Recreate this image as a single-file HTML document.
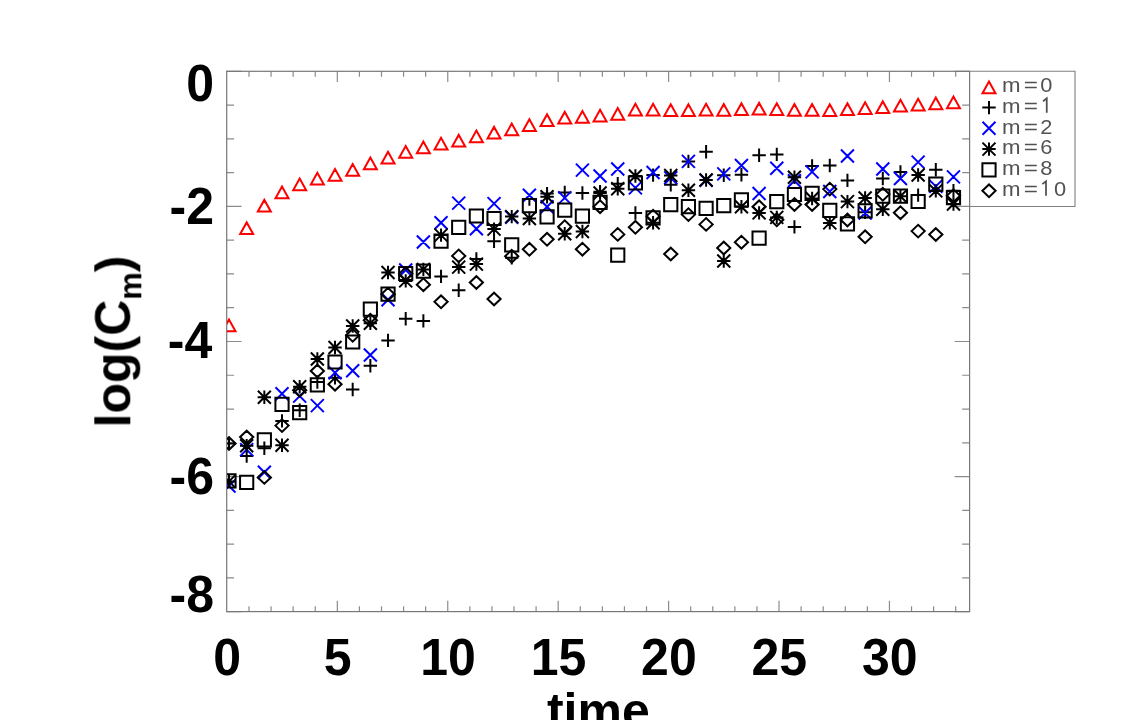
<!DOCTYPE html>
<html><head><meta charset="utf-8"><title>log(Cm) vs time</title>
<style>
html,body{margin:0;padding:0;background:#fff}
body{width:1142px;height:720px;overflow:hidden;font-family:"Liberation Sans",sans-serif}
svg{display:block}
.ax{font-family:"Liberation Sans",sans-serif;font-weight:bold;font-size:50px;fill:#000}
.lg{font-family:"Liberation Sans",sans-serif;font-size:21px;fill:#525252}
.mk{fill:none;stroke-width:2;stroke-linejoin:miter;stroke-linecap:butt}
</style></head><body>
<svg width="1142" height="720" viewBox="0 0 1142 720">
<rect x="0" y="0" width="1142" height="720" fill="#fff"/>
<defs><clipPath id="pc"><rect x="227" y="60" width="760" height="552"/></clipPath></defs>
<path d="M248.99 611.6V606.2M248.99 71.3V76.7M271.07 611.6V606.2M271.07 71.3V76.7M293.15 611.6V606.2M293.15 71.3V76.7M315.24 611.6V606.2M315.24 71.3V76.7M337.33 611.6V600.8M337.33 71.3V82.1M359.41 611.6V606.2M359.41 71.3V76.7M381.5 611.6V606.2M381.5 71.3V76.7M403.58 611.6V606.2M403.58 71.3V76.7M425.67 611.6V606.2M425.67 71.3V76.7M447.75 611.6V600.8M447.75 71.3V82.1M469.84 611.6V606.2M469.84 71.3V76.7M491.92 611.6V606.2M491.92 71.3V76.7M514 611.6V606.2M514 71.3V76.7M536.09 611.6V606.2M536.09 71.3V76.7M558.18 611.6V600.8M558.18 71.3V82.1M580.26 611.6V606.2M580.26 71.3V76.7M602.35 611.6V606.2M602.35 71.3V76.7M624.43 611.6V606.2M624.43 71.3V76.7M646.51 611.6V606.2M646.51 71.3V76.7M668.6 611.6V600.8M668.6 71.3V82.1M690.69 611.6V606.2M690.69 71.3V76.7M712.77 611.6V606.2M712.77 71.3V76.7M734.86 611.6V606.2M734.86 71.3V76.7M756.94 611.6V606.2M756.94 71.3V76.7M779.02 611.6V600.8M779.02 71.3V82.1M801.11 611.6V606.2M801.11 71.3V76.7M823.2 611.6V606.2M823.2 71.3V76.7M845.28 611.6V606.2M845.28 71.3V76.7M867.37 611.6V606.2M867.37 71.3V76.7M889.45 611.6V600.8M889.45 71.3V82.1M911.53 611.6V606.2M911.53 71.3V76.7M933.62 611.6V606.2M933.62 71.3V76.7M955.71 611.6V606.2M955.71 71.3V76.7M226.7 71.3H241.6M969.6 71.3H954.7M226.7 105.07H234.1M969.6 105.07H962.2M226.7 138.85H234.1M969.6 138.85H962.2M226.7 172.62H234.1M969.6 172.62H962.2M226.7 206.4H241.6M969.6 206.4H954.7M226.7 240.18H234.1M969.6 240.18H962.2M226.7 273.95H234.1M969.6 273.95H962.2M226.7 307.72H234.1M969.6 307.72H962.2M226.7 341.5H241.6M969.6 341.5H954.7M226.7 375.27H234.1M969.6 375.27H962.2M226.7 409.05H234.1M969.6 409.05H962.2M226.7 442.82H234.1M969.6 442.82H962.2M226.7 476.6H241.6M969.6 476.6H954.7M226.7 510.38H234.1M969.6 510.38H962.2M226.7 544.15H234.1M969.6 544.15H962.2M226.7 577.92H234.1M969.6 577.92H962.2M226.7 611.7H241.6M969.6 611.7H954.7" fill="none" stroke="#8c8c8c" stroke-width="1.2"/>
<rect x="226.7" y="71.3" width="742.9" height="540.3" fill="none" stroke="#777" stroke-width="1.2"/>
<path d="M969.6 71.3H1075V206.5H969.6" fill="none" stroke="#808080" stroke-width="1.1"/>
<g clip-path="url(#pc)" class="mk">
<path d="M222.5 331.2L235.5 331.2L229 319.5ZM240.17 234.1L253.17 234.1L246.67 222.4ZM257.84 211.6L270.84 211.6L264.34 199.9ZM275.51 198.2L288.51 198.2L282.01 186.5ZM293.18 190.3L306.18 190.3L299.68 178.6ZM310.85 184.5L323.85 184.5L317.35 172.8ZM328.52 180.7L341.52 180.7L335.02 169ZM346.19 175.8L359.19 175.8L352.69 164.1ZM363.86 169.3L376.86 169.3L370.36 157.6ZM381.53 163.5L394.53 163.5L388.03 151.8ZM399.2 157.7L412.2 157.7L405.7 146ZM416.87 153.3L429.87 153.3L423.37 141.6ZM434.54 149.5L447.54 149.5L441.04 137.8ZM452.21 146.6L465.21 146.6L458.71 134.9ZM469.88 142.2L482.88 142.2L476.38 130.5ZM487.55 138.6L500.55 138.6L494.05 126.9ZM505.22 135.3L518.22 135.3L511.72 123.6ZM522.89 130.9L535.89 130.9L529.39 119.2ZM540.56 126.1L553.56 126.1L547.06 114.4ZM558.23 123.6L571.23 123.6L564.73 111.9ZM575.9 122.8L588.9 122.8L582.4 111.1ZM593.57 121.4L606.57 121.4L600.07 109.7ZM611.24 119.8L624.24 119.8L617.74 108.1ZM628.91 115.4L641.91 115.4L635.41 103.7ZM646.58 115.4L659.58 115.4L653.08 103.7ZM664.25 116L677.25 116L670.75 104.3ZM681.92 116L694.92 116L688.42 104.3ZM699.59 115.5L712.59 115.5L706.09 103.8ZM717.26 115.8L730.26 115.8L723.76 104.1ZM734.93 115.1L747.93 115.1L741.43 103.4ZM752.6 114.6L765.6 114.6L759.1 102.9ZM770.27 114.9L783.27 114.9L776.77 103.2ZM787.94 115.7L800.94 115.7L794.44 104ZM805.61 115.7L818.61 115.7L812.11 104ZM823.28 116L836.28 116L829.78 104.3ZM840.95 115.1L853.95 115.1L847.45 103.4ZM858.62 113.9L871.62 113.9L865.12 102.2ZM876.29 113.1L889.29 113.1L882.79 101.4ZM893.96 111.5L906.96 111.5L900.46 99.8ZM911.63 110.5L924.63 110.5L918.13 98.8ZM929.3 109.3L942.3 109.3L935.8 97.6ZM946.97 108.3L959.97 108.3L953.47 96.6Z" stroke="#ff0000"/>
<path d="M222.3 443.4H235.7M229 436.7V450.1M239.97 456H253.37M246.67 449.3V462.7M257.64 448.3H271.04M264.34 441.6V455M275.31 420.9H288.71M282.01 414.2V427.6M292.98 410.3H306.38M299.68 403.6V417M310.65 382H324.05M317.35 375.3V388.7M328.32 377.7H341.72M335.02 371V384.4M345.99 389.5H359.39M352.69 382.8V396.2M363.66 365.8H377.06M370.36 359.1V372.5M381.33 340.4H394.73M388.03 333.7V347.1M399 318.8H412.4M405.7 312.1V325.5M416.67 320.9H430.07M423.37 314.2V327.6M434.34 276.4H447.74M441.04 269.7V283.1M452.01 290.3H465.41M458.71 283.6V297M469.68 259H483.08M476.38 252.3V265.7M487.35 241.2H500.75M494.05 234.5V247.9M505.02 257.8H518.42M511.72 251.1V264.5M540.36 193.6H553.76M547.06 186.9V200.3M558.03 192.5H571.43M564.73 185.8V199.2M575.7 193H589.1M582.4 186.3V199.7M593.37 191.7H606.77M600.07 185V198.4M611.04 183.8H624.44M617.74 177.1V190.5M628.71 213H642.11M635.41 206.3V219.7M646.38 175.1H659.78M653.08 168.4V181.8M664.05 184.7H677.45M670.75 178V191.4M681.72 161.4H695.12M688.42 154.7V168.1M699.39 151.7H712.79M706.09 145V158.4M717.06 175.2H730.46M723.76 168.5V181.9M734.73 174.8H748.13M741.43 168.1V181.5M752.4 155.3H765.8M759.1 148.6V162M770.07 154.4H783.47M776.77 147.7V161.1M787.74 226.9H801.14M794.44 220.2V233.6M805.41 166H818.81M812.11 159.3V172.7M823.08 165.5H836.48M829.78 158.8V172.2M840.75 180.4H854.15M847.45 173.7V187.1M858.42 212.3H871.82M865.12 205.6V219M876.09 178.5H889.49M882.79 171.8V185.2M893.76 171.9H907.16M900.46 165.2V178.6M911.43 195.1H924.83M918.13 188.4V201.8M929.1 169.7H942.5M935.8 163V176.4M946.77 190.7H960.17M953.47 184V197.4M529.39 199V205.75" stroke="#000"/>
<path d="M222.5 479.5L235.5 492.5M222.5 492.5L235.5 479.5M240.17 443.1L253.17 456.1M240.17 456.1L253.17 443.1M257.84 465.7L270.84 478.7M257.84 478.7L270.84 465.7M275.51 387.3L288.51 400.3M275.51 400.3L288.51 387.3M293.18 389.6L306.18 402.6M293.18 402.6L306.18 389.6M310.85 399.1L323.85 412.1M310.85 412.1L323.85 399.1M328.52 366.3L341.52 379.3M328.52 379.3L341.52 366.3M346.19 364.3L359.19 377.3M346.19 377.3L359.19 364.3M363.86 348.5L376.86 361.5M363.86 361.5L376.86 348.5M381.53 293.2L394.53 306.2M381.53 306.2L394.53 293.2M399.2 263.5L412.2 276.5M399.2 276.5L412.2 263.5M416.87 235.5L429.87 248.5M416.87 248.5L429.87 235.5M434.54 216.2L447.54 229.2M434.54 229.2L447.54 216.2M452.21 196.6L465.21 209.6M452.21 209.6L465.21 196.6M469.88 222.3L482.88 235.3M469.88 235.3L482.88 222.3M487.55 197.1L500.55 210.1M487.55 210.1L500.55 197.1M505.22 210.8L518.22 223.8M505.22 223.8L518.22 210.8M522.89 188.8L535.89 201.8M522.89 201.8L535.89 188.8M540.56 200.2L553.56 213.2M540.56 213.2L553.56 200.2M558.23 191.4L571.23 204.4M558.23 204.4L571.23 191.4M575.9 163.6L588.9 176.6M575.9 176.6L588.9 163.6M593.57 169.5L606.57 182.5M593.57 182.5L606.57 169.5M611.24 162.5L624.24 175.5M611.24 175.5L624.24 162.5M628.91 181.4L641.91 194.4M628.91 194.4L641.91 181.4M646.58 166L659.58 179M646.58 179L659.58 166M664.25 171.3L677.25 184.3M664.25 184.3L677.25 171.3M681.92 154.9L694.92 167.9M681.92 167.9L694.92 154.9M699.59 173.8L712.59 186.8M699.59 186.8L712.59 173.8M717.26 167.4L730.26 180.4M717.26 180.4L730.26 167.4M734.93 159L747.93 172M734.93 172L747.93 159M752.6 187L765.6 200M752.6 200L765.6 187M770.27 161.8L783.27 174.8M770.27 174.8L783.27 161.8M787.94 174.3L800.94 187.3M787.94 187.3L800.94 174.3M805.61 165.4L818.61 178.4M805.61 178.4L818.61 165.4M823.28 185L836.28 198M823.28 198L836.28 185M840.95 149.5L853.95 162.5M840.95 162.5L853.95 149.5M858.62 206.5L871.62 219.5M858.62 219.5L871.62 206.5M876.29 162.5L889.29 175.5M876.29 175.5L889.29 162.5M893.96 172L906.96 185M893.96 185L906.96 172M911.63 155.6L924.63 168.6M911.63 168.6L924.63 155.6M929.3 179.9L942.3 192.9M929.3 192.9L942.3 179.9M946.97 170.4L959.97 183.4M946.97 183.4L959.97 170.4" stroke="#0000ff"/>
<path d="M222.3 481.4H235.7M229 474.7V488.1M222.5 474.9L235.5 487.9M222.5 487.9L235.5 474.9M239.97 445.8H253.37M246.67 439.1V452.5M240.17 439.3L253.17 452.3M240.17 452.3L253.17 439.3M257.64 397.3H271.04M264.34 390.6V404M257.84 390.8L270.84 403.8M257.84 403.8L270.84 390.8M275.31 445.2H288.71M282.01 438.5V451.9M275.51 438.7L288.51 451.7M275.51 451.7L288.51 438.7M292.98 386.7H306.38M299.68 380V393.4M293.18 380.2L306.18 393.2M293.18 393.2L306.18 380.2M310.65 359H324.05M317.35 352.3V365.7M310.85 352.5L323.85 365.5M310.85 365.5L323.85 352.5M328.32 347.5H341.72M335.02 340.8V354.2M328.52 341L341.52 354M328.52 354L341.52 341M345.99 326H359.39M352.69 319.3V332.7M346.19 319.5L359.19 332.5M346.19 332.5L359.19 319.5M363.66 323.3H377.06M370.36 316.6V330M363.86 316.8L376.86 329.8M363.86 329.8L376.86 316.8M381.33 272.5H394.73M388.03 265.8V279.2M381.53 266L394.53 279M381.53 279L394.53 266M399 280.9H412.4M405.7 274.2V287.6M399.2 274.4L412.2 287.4M399.2 287.4L412.2 274.4M416.67 269.4H430.07M423.37 262.7V276.1M416.87 262.9L429.87 275.9M416.87 275.9L429.87 262.9M434.34 235.1H447.74M441.04 228.4V241.8M434.54 228.6L447.54 241.6M434.54 241.6L447.54 228.6M452.01 267.1H465.41M458.71 260.4V273.8M452.21 260.6L465.21 273.6M452.21 273.6L465.21 260.6M469.68 264.1H483.08M476.38 257.4V270.8M469.88 257.6L482.88 270.6M469.88 270.6L482.88 257.6M487.35 229.1H500.75M494.05 222.4V235.8M487.55 222.6L500.55 235.6M487.55 235.6L500.55 222.6M505.02 216.6H518.42M511.72 209.9V223.3M505.22 210.1L518.22 223.1M505.22 223.1L518.22 210.1M522.69 218.5H536.09M529.39 211.8V225.2M522.89 212L535.89 225M522.89 225L535.89 212M540.36 196.8H553.76M547.06 190.1V203.5M540.56 190.3L553.56 203.3M540.56 203.3L553.56 190.3M558.03 233.8H571.43M564.73 227.1V240.5M558.23 227.3L571.23 240.3M558.23 240.3L571.23 227.3M575.7 231.5H589.1M582.4 224.8V238.2M575.9 225L588.9 238M575.9 238L588.9 225M593.37 193H606.77M600.07 186.3V199.7M593.57 186.5L606.57 199.5M593.57 199.5L606.57 186.5M611.04 188.7H624.44M617.74 182V195.4M611.24 182.2L624.24 195.2M611.24 195.2L624.24 182.2M628.71 176H642.11M635.41 169.3V182.7M628.91 169.5L641.91 182.5M628.91 182.5L641.91 169.5M646.38 222.8H659.78M653.08 216.1V229.5M646.58 216.3L659.58 229.3M646.58 229.3L659.58 216.3M664.05 175.5H677.45M670.75 168.8V182.2M664.25 169L677.25 182M664.25 182L677.25 169M681.72 190.2H695.12M688.42 183.5V196.9M681.92 183.7L694.92 196.7M681.92 196.7L694.92 183.7M699.39 180H712.79M706.09 173.3V186.7M699.59 173.5L712.59 186.5M699.59 186.5L712.59 173.5M717.06 261H730.46M723.76 254.3V267.7M717.26 254.5L730.26 267.5M717.26 267.5L730.26 254.5M734.73 206.7H748.13M741.43 200V213.4M734.93 200.2L747.93 213.2M734.93 213.2L747.93 200.2M752.4 212.9H765.8M759.1 206.2V219.6M752.6 206.4L765.6 219.4M752.6 219.4L765.6 206.4M770.07 217.4H783.47M776.77 210.7V224.1M770.27 210.9L783.27 223.9M770.27 223.9L783.27 210.9M787.74 177.3H801.14M794.44 170.6V184M787.94 170.8L800.94 183.8M787.94 183.8L800.94 170.8M805.41 198.5H818.81M812.11 191.8V205.2M805.61 192L818.61 205M805.61 205L818.61 192M823.08 222.9H836.48M829.78 216.2V229.6M823.28 216.4L836.28 229.4M823.28 229.4L836.28 216.4M840.75 201.6H854.15M847.45 194.9V208.3M840.95 195.1L853.95 208.1M840.95 208.1L853.95 195.1M858.42 198H871.82M865.12 191.3V204.7M858.62 191.5L871.62 204.5M858.62 204.5L871.62 191.5M876.09 209.2H889.49M882.79 202.5V215.9M876.29 202.7L889.29 215.7M876.29 215.7L889.29 202.7M893.76 196.2H907.16M900.46 189.5V202.9M893.96 189.7L906.96 202.7M893.96 202.7L906.96 189.7M911.43 175H924.83M918.13 168.3V181.7M911.63 168.5L924.63 181.5M911.63 181.5L924.63 168.5M929.1 190.9H942.5M935.8 184.2V197.6M929.3 184.4L942.3 197.4M929.3 197.4L942.3 184.4M946.77 204H960.17M953.47 197.3V210.7M946.97 197.5L959.97 210.5M946.97 210.5L959.97 197.5" stroke="#000"/>
<path d="M222.4 474.2H235.6V487.4H222.4ZM240.07 475.8H253.27V489H240.07ZM257.74 433.2H270.94V446.4H257.74ZM275.41 397.8H288.61V411H275.41ZM293.08 406H306.28V419.2H293.08ZM310.75 378.2H323.95V391.4H310.75ZM328.42 355.4H341.62V368.6H328.42ZM346.09 335.4H359.29V348.6H346.09ZM363.76 302.5H376.96V315.7H363.76ZM381.43 287.6H394.63V300.8H381.43ZM399.1 266.9H412.3V280.1H399.1ZM416.77 264.6H429.97V277.8H416.77ZM434.44 234.5H447.64V247.7H434.44ZM452.11 220.7H465.31V233.9H452.11ZM469.78 209.4H482.98V222.6H469.78ZM487.45 211.9H500.65V225.1H487.45ZM505.12 238.2H518.32V251.4H505.12ZM522.79 199H535.99V212.2H522.79ZM540.46 210.2H553.66V223.4H540.46ZM558.13 203.6H571.33V216.8H558.13ZM575.8 209.5H589V222.7H575.8ZM593.47 195.8H606.67V209H593.47ZM611.14 248.5H624.34V261.7H611.14ZM628.81 176.4H642.01V189.6H628.81ZM646.48 211.2H659.68V224.4H646.48ZM664.15 198.1H677.35V211.3H664.15ZM681.82 200.1H695.02V213.3H681.82ZM699.49 201.7H712.69V214.9H699.49ZM717.16 199H730.36V212.2H717.16ZM734.83 193.2H748.03V206.4H734.83ZM752.5 231.5H765.7V244.7H752.5ZM770.17 195H783.37V208.2H770.17ZM787.84 187.9H801.04V201.1H787.84ZM805.51 186.8H818.71V200H805.51ZM823.18 203.8H836.38V217H823.18ZM840.85 217.2H854.05V230.4H840.85ZM858.52 204.2H871.72V217.4H858.52ZM876.19 189.6H889.39V202.8H876.19ZM893.86 189.6H907.06V202.8H893.86ZM911.53 194.9H924.73V208.1H911.53ZM929.2 177.5H942.4V190.7H929.2ZM946.87 191H960.07V204.2H946.87Z" stroke="#000"/>
<path d="M222.4 443.5L229 437.2L235.6 443.5L229 449.8ZM240.07 437L246.67 430.7L253.27 437L246.67 443.3ZM257.74 477.4L264.34 471.1L270.94 477.4L264.34 483.7ZM275.41 425.6L282.01 419.3L288.61 425.6L282.01 431.9ZM293.08 390.2L299.68 383.9L306.28 390.2L299.68 396.5ZM310.75 371L317.35 364.7L323.95 371L317.35 377.3ZM328.42 384.2L335.02 377.9L341.62 384.2L335.02 390.5ZM346.09 335.3L352.69 329L359.29 335.3L352.69 341.6ZM363.76 320.3L370.36 314L376.96 320.3L370.36 326.6ZM381.43 294.2L388.03 287.9L394.63 294.2L388.03 300.5ZM399.1 273.8L405.7 267.5L412.3 273.8L405.7 280.1ZM416.77 284.7L423.37 278.4L429.97 284.7L423.37 291ZM434.44 301.8L441.04 295.5L447.64 301.8L441.04 308.1ZM452.11 255.9L458.71 249.6L465.31 255.9L458.71 262.2ZM469.78 282.5L476.38 276.2L482.98 282.5L476.38 288.8ZM487.45 299L494.05 292.7L500.65 299L494.05 305.3ZM505.12 256.2L511.72 249.9L518.32 256.2L511.72 262.5ZM522.79 249.3L529.39 243L535.99 249.3L529.39 255.6ZM540.46 239.3L547.06 233L553.66 239.3L547.06 245.6ZM558.13 226.7L564.73 220.4L571.33 226.7L564.73 233ZM575.8 249.2L582.4 242.9L589 249.2L582.4 255.5ZM593.47 206.7L600.07 200.4L606.67 206.7L600.07 213ZM611.14 234.4L617.74 228.1L624.34 234.4L617.74 240.7ZM628.81 227.3L635.41 221L642.01 227.3L635.41 233.6ZM646.48 216.2L653.08 209.9L659.68 216.2L653.08 222.5ZM664.15 254L670.75 247.7L677.35 254L670.75 260.3ZM681.82 214.6L688.42 208.3L695.02 214.6L688.42 220.9ZM699.49 224.4L706.09 218.1L712.69 224.4L706.09 230.7ZM717.16 248L723.76 241.7L730.36 248L723.76 254.3ZM734.83 242.2L741.43 235.9L748.03 242.2L741.43 248.5ZM752.5 206.8L759.1 200.5L765.7 206.8L759.1 213.1ZM770.17 219.8L776.77 213.5L783.37 219.8L776.77 226.1ZM787.84 204.5L794.44 198.2L801.04 204.5L794.44 210.8ZM805.51 204.5L812.11 198.2L818.71 204.5L812.11 210.8ZM823.18 189.1L829.78 182.8L836.38 189.1L829.78 195.4ZM840.85 220L847.45 213.7L854.05 220L847.45 226.3ZM858.52 236.8L865.12 230.5L871.72 236.8L865.12 243.1ZM876.19 194.3L882.79 188L889.39 194.3L882.79 200.6ZM893.86 212.7L900.46 206.4L907.06 212.7L900.46 219ZM911.53 231.1L918.13 224.8L924.73 231.1L918.13 237.4ZM929.2 234.5L935.8 228.2L942.4 234.5L935.8 240.8ZM946.87 195.7L953.47 189.4L960.07 195.7L953.47 202Z" stroke="#000"/>
</g>
<g class="mk">
<path d="M982.5 93.3L995.5 93.3L989 81.6Z" stroke="#ff0000"/>
<path d="M982.3 107.6H995.7M989 100.9V114.3" stroke="#000"/>
<path d="M982.5 121.8L995.5 134.8M982.5 134.8L995.5 121.8" stroke="#0000ff"/>
<path d="M982.3 149.1H995.7M989 142.4V155.8M982.5 142.6L995.5 155.6M982.5 155.6L995.5 142.6" stroke="#000"/>
<path d="M982.4 163.2H995.6V176.4H982.4Z" stroke="#000"/>
<path d="M982.4 190.8L989 184.5L995.6 190.8L989 197.1Z" stroke="#000"/>
</g>
<g class="lg" style="filter:grayscale(1)">
<text transform="translate(1011.3 91.9) scale(1.06 1)" text-anchor="middle">m</text><text transform="translate(1030.75 91.9) scale(1.16 1)" text-anchor="middle">=</text><text transform="translate(1046.4 91.9) scale(1.04 1)" text-anchor="middle">0</text>
<text transform="translate(1011.3 112.7) scale(1.06 1)" text-anchor="middle">m</text><text transform="translate(1030.75 112.7) scale(1.16 1)" text-anchor="middle">=</text><path d="M1043.05 101.2L1046.75 98.3V112.8" fill="none" stroke="#4f4f4f" stroke-width="1.75" stroke-linejoin="miter"/>
<text transform="translate(1011.3 133.5) scale(1.06 1)" text-anchor="middle">m</text><text transform="translate(1030.75 133.5) scale(1.16 1)" text-anchor="middle">=</text><text transform="translate(1046.4 133.5) scale(1.04 1)" text-anchor="middle">2</text>
<text transform="translate(1011.3 154.3) scale(1.06 1)" text-anchor="middle">m</text><text transform="translate(1030.75 154.3) scale(1.16 1)" text-anchor="middle">=</text><text transform="translate(1046.4 154.3) scale(1.04 1)" text-anchor="middle">6</text>
<text transform="translate(1011.3 175) scale(1.06 1)" text-anchor="middle">m</text><text transform="translate(1030.75 175) scale(1.16 1)" text-anchor="middle">=</text><text transform="translate(1046.4 175) scale(1.04 1)" text-anchor="middle">8</text>
<text transform="translate(1011.3 195.6) scale(1.06 1)" text-anchor="middle">m</text><text transform="translate(1030.75 195.6) scale(1.16 1)" text-anchor="middle">=</text><path d="M1042.3 184.1L1046 181.2V195.7" fill="none" stroke="#4f4f4f" stroke-width="1.75" stroke-linejoin="miter"/><text transform="translate(1060 195.6) scale(1.04 1)" text-anchor="middle">0</text>
</g>
<g class="ax" style="filter:grayscale(1)">
<text transform="translate(214 101) scale(1 1.03)" text-anchor="end">0</text>
<text transform="translate(214 224.2) scale(1 1.03)" text-anchor="end">-2</text>
<text transform="translate(212.2 357.9) scale(1 1.03)" text-anchor="end">-4</text>
<text transform="translate(214 494.2) scale(1 1.03)" text-anchor="end">-6</text>
<text transform="translate(214 612.2) scale(1 1.03)" text-anchor="end">-8</text>
<text transform="translate(227.2 675.3) scale(1 1.03)" text-anchor="middle">0</text>
<text transform="translate(337.63 675.3) scale(1 1.03)" text-anchor="middle">5</text>
<text transform="translate(448.05 675.3) scale(1 1.03)" text-anchor="middle">10</text>
<text transform="translate(558.48 675.3) scale(1 1.03)" text-anchor="middle">15</text>
<text transform="translate(668.9 675.3) scale(1 1.03)" text-anchor="middle">20</text>
<text transform="translate(779.32 675.3) scale(1 1.03)" text-anchor="middle">25</text>
<text transform="translate(889.75 675.3) scale(1 1.03)" text-anchor="middle">30</text>
<text transform="translate(598.3 728.3) scale(1 1)" text-anchor="middle">time</text>
<text transform="translate(130.3 341.5) rotate(-90)" text-anchor="middle">log(C<tspan font-size="31px" dy="11">m</tspan><tspan dy="-11">)</tspan></text>
</g>
</svg>
</body></html>
